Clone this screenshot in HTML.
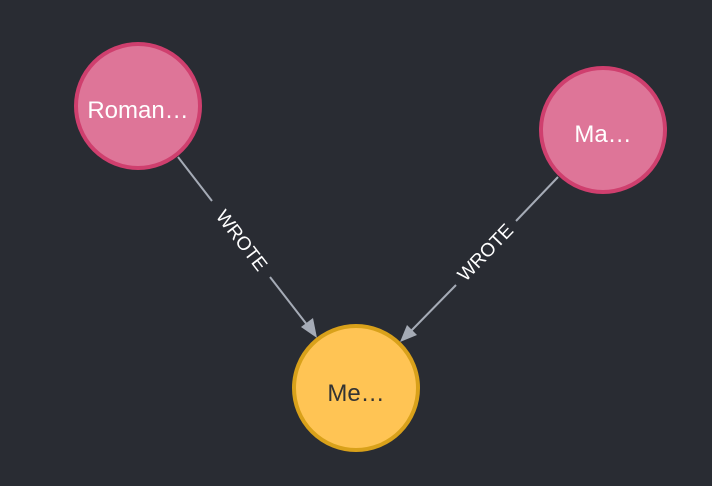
<!DOCTYPE html>
<html><head><style>
html,body{margin:0;padding:0;background:#292c33;}
svg{display:block;}
text{font-family:"Liberation Sans",sans-serif;}
</style></head><body>
<svg width="712" height="486" viewBox="0 0 712 486">
<rect width="712" height="486" fill="#292c33"/>
<g stroke="#a5abb6" stroke-width="2" fill="none">
<line x1="178" y1="157" x2="212" y2="201"/>
<line x1="270" y1="277" x2="308" y2="326"/>
<line x1="558" y1="177" x2="516" y2="221"/>
<line x1="456" y1="285" x2="410" y2="332"/>
</g>
<polygon points="317,338 301,327 313,318" fill="#a5abb6"/>
<polygon points="400,342 407,325 417,335" fill="#a5abb6"/>
<text x="241" y="241" transform="rotate(52.5 241 241)" text-anchor="middle" dominant-baseline="central" font-size="19" fill="#fff">WROTE</text>
<text x="486" y="253" transform="rotate(-46.2 486 253)" text-anchor="middle" dominant-baseline="central" font-size="19" fill="#fff">WROTE</text>
<circle cx="138" cy="106" r="62" fill="#de7598" stroke="#cf3f6e" stroke-width="4"/>
<circle cx="603" cy="130" r="62" fill="#de7598" stroke="#cf3f6e" stroke-width="4"/>
<circle cx="356" cy="388" r="62" fill="#ffc454" stroke="#d9a11a" stroke-width="4"/>
<text x="138" y="118" text-anchor="middle" font-size="24" fill="#fff">Roman…</text>
<text x="603" y="142" text-anchor="middle" font-size="24" fill="#fff">Ma…</text>
<text x="356" y="401" text-anchor="middle" font-size="24" fill="#333">Me…</text>
</svg>
</body></html>
